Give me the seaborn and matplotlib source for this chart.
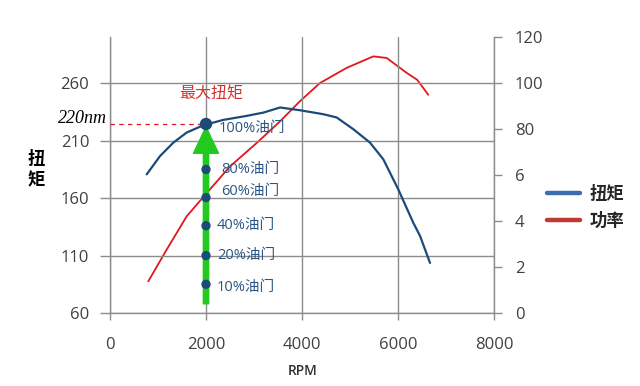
import matplotlib
matplotlib.use("Agg")
import matplotlib.pyplot as plt
from matplotlib.lines import Line2D
import seaborn as sns
import pandas as pd

# ---- data ----
torque_rpm = [765, 1042, 1319, 1598, 1944, 2360, 2848, 3200, 3542, 3958, 4450, 4723,
              5069, 5417, 5694, 6006, 6319, 6460, 6667]
torque_nm = [180.7, 196.6, 208.3, 217.1, 223.4, 228.1, 231.6, 234.5, 238.9, 236.5, 233, 230.2,
             220, 208.3, 193.8, 167.6, 138.5, 127, 103.6]
power_rpm = [798, 1181, 1598, 2015, 2500, 3056, 3542, 3958, 4375, 4931, 5485, 5765,
             6181, 6400, 6631]
power_kw = [13.8, 27.6, 42.1, 52.2, 63.8, 74, 83.4, 92.2, 100.1, 106.7, 111.7, 111,
            104.5, 101.5, 95]
throttle_labels = ["100%油门", "80%油门", "60%油门", "40%油门", "20%油门", "10%油门"]
throttle_torque = [224.5, 185, 160.5, 136, 110, 85]
throttle_rpm = 2000
max_torque_label = "220nm"
left_ticks = [60, 110, 160, 210, 260]
right_ticks = [0, 20, 40, 60, 80, 100, 120]
right_tick_labels = ["0", "2", "4", "6", "80", "100", "120"]
x_ticks = [0, 2000, 4000, 6000, 8000]
legend_labels = ["扭矩", "功率"]

sns.set_style("white")
plt.rcParams["font.family"] = ["Open Sans", "Noto Sans CJK SC", "DejaVu Sans"]

fig = plt.figure(figsize=(6.4, 3.86), dpi=100)
ax = fig.add_axes([110 / 640, 73 / 386, 384 / 640, 275.7 / 386])
ax2 = ax.twinx()

grid_c = "#8c8c8c"
tick_c = "#404040"
navy = "#1d4a78"
red = "#e3161d"

df_t = pd.DataFrame({"rpm": torque_rpm, "torque": torque_nm})
df_p = pd.DataFrame({"rpm": power_rpm, "power": power_kw})
df_d = pd.DataFrame({"rpm": [throttle_rpm] * len(throttle_torque), "torque": throttle_torque})

sns.lineplot(data=df_p, x="rpm", y="power", ax=ax2, color=red, lw=1.3, legend=False)
sns.lineplot(data=df_t, x="rpm", y="torque", ax=ax, color=navy, lw=1.6, legend=False)

# green arrow
ax.annotate("", xy=(throttle_rpm, 222), xytext=(throttle_rpm, 68),
            arrowprops=dict(arrowstyle="simple,head_width=18,head_length=19,tail_width=3.8",
                            mutation_scale=1, color="#22c91f", shrinkA=0, shrinkB=0),
            zorder=4)
# dashed line to max torque
ax.plot([0, throttle_rpm], [throttle_torque[0]] * 2, color=red, lw=0.9,
        dashes=(3.5, 3.5), zorder=3)

sizes = [80] + [45] * (len(throttle_torque) - 1)
sns.scatterplot(data=df_d, x="rpm", y="torque", ax=ax, s=sizes, color=navy,
                edgecolor="none", zorder=5, legend=False)

offsets = [(9, -3), (11, 0), (11, 4), (8, 0), (8, 0), (8, -2)]
for lab, tq, off in zip(throttle_labels, throttle_torque, offsets):
    ax.annotate(lab, xy=(throttle_rpm, tq), xytext=off, textcoords="offset points",
                ha="left", va="center", fontsize=10.5, color="#2a5582", zorder=6)

ax.text(2100, 250.5, "最大扭矩", color="#d9302c", fontsize=11.5, ha="center", va="center")
ax.text(-0.008, 229, max_torque_label, transform=ax.get_yaxis_transform(),
        ha="right", va="center", fontsize=13, style="italic",
        family=["Liberation Serif", "DejaVu Serif"], color="black")

# axes setup
ax.set_xlim(0, 8000)
ax.set_ylim(60, 300)
ax2.set_ylim(0, 120)
ax.set_xticks(x_ticks)
ax.set_yticks(left_ticks)
ax2.set_yticks(right_ticks)
ax2.set_yticklabels(right_tick_labels)

ax.grid(True, color=grid_c, lw=1)
ax2.grid(False)
ax.set_axisbelow(True)

for s in ["left", "bottom", "right"]:
    ax.spines[s].set_visible(True)
    ax.spines[s].set_color(grid_c)
    ax.spines[s].set_linewidth(1)
ax.spines["top"].set_visible(False)
for s in ax2.spines.values():
    s.set_visible(False)

ax.tick_params(axis="x", bottom=True, direction="out", length=5, width=1, color=grid_c,
               pad=12, labelsize=12, labelcolor=tick_c)
ax.tick_params(axis="y", left=True, direction="out", length=7, width=1, color=grid_c,
               pad=8, labelsize=12, labelcolor=tick_c)
ax2.tick_params(axis="y", right=True, direction="out", length=6, width=1, color=grid_c,
                pad=9, labelsize=12, labelcolor=tick_c)

ax.set_xlabel("RPM", fontsize=10, fontweight="semibold", color="#303030")
ax.xaxis.set_label_coords((303 - 110) / 384, -0.185)
ax.set_ylabel("扭\n矩", rotation=0, fontsize=12.5, fontweight="bold", color="black",
              linespacing=1.25, ha="center", va="center")
ax.yaxis.set_label_coords((36 - 110) / 384, 0.519)
ax2.set_ylabel("")

ax.set_zorder(ax2.get_zorder() + 1)
ax.patch.set_visible(False)

handles = [Line2D([], [], color="#3b6db3", lw=3.2),
           Line2D([], [], color="#be3a34", lw=3.2)]
leg = fig.legend(handles, legend_labels, loc="center left",
                 bbox_to_anchor=(531 / 640, 1 - 207.5 / 386), frameon=False,
                 handlelength=1.9, handletextpad=0.6, labelspacing=0.55,
                 prop={"family": ["Noto Sans CJK SC"], "weight": "bold", "size": 12.5})

fig.savefig("out.png", dpi=100, facecolor="white")
